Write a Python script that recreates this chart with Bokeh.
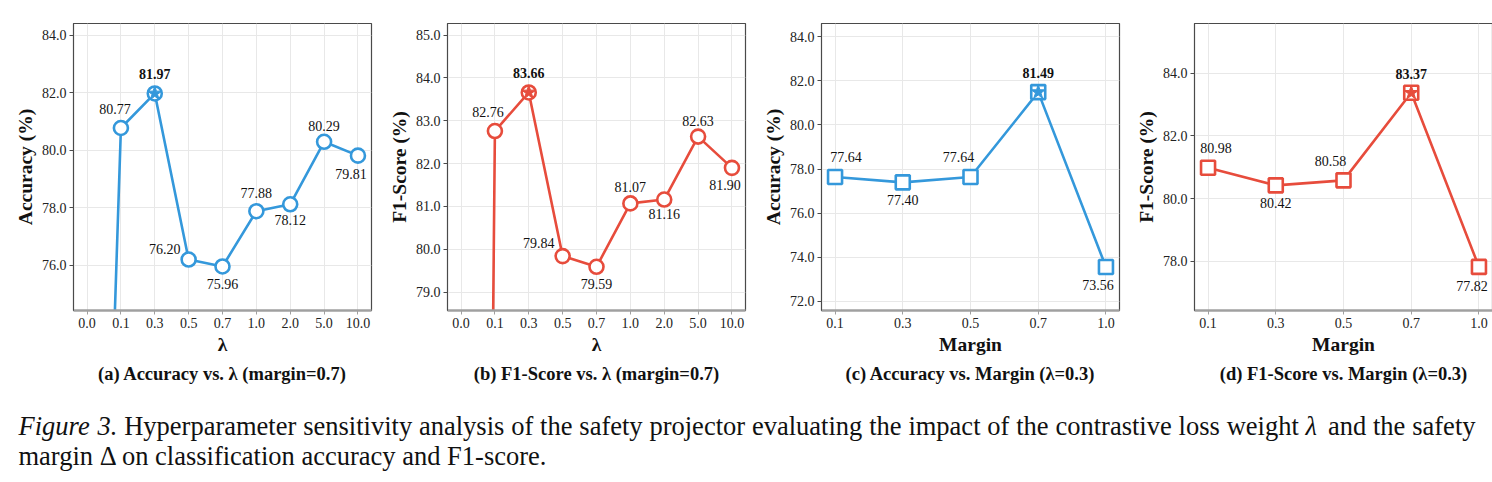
from bokeh.plotting import figure
from bokeh.models import (Range1d, FixedTicker, NumeralTickFormatter, Title,
                          ColumnDataSource)
from bokeh.layouts import row, column
from bokeh.core.properties import value
from bokeh.embed import file_html
from bokeh.resources import INLINE

# ---- data ----------------------------------------------------------------
lam_labels = ["0.0", "0.1", "0.3", "0.5", "0.7", "1.0", "2.0", "5.0", "10.0"]
acc_lam = [45.0, 80.77, 81.97, 76.20, 75.96, 77.88, 78.12, 80.29, 79.81]
f1_lam = [0.0, 82.76, 83.66, 79.84, 79.59, 81.07, 81.16, 82.63, 81.90]

margin_labels = ["0.1", "0.3", "0.5", "0.7", "1.0"]
acc_margin = [77.64, 77.40, 77.64, 81.49, 73.56]
f1_margin = [80.98, 80.42, 80.58, 83.37, 77.82]

# ---- styling ---------------------------------------------------------------
BLUE = "#3498DB"
RED = "#E74C3C"
SERIF = "Liberation Serif"

# value-label offsets in screen pixels (dx, dy; negative dy = above the point)
off_acc_lam = [(0, 0), (-6, -19), (0, -19), (-24, -11), (0, 18), (0, -18), (0, 16), (0, -16), (-7, 18)]
off_f1_lam = [(0, 0), (-7, -19), (0, -19), (-24, -13), (0, 17), (0, -16), (0, 14), (0, -16), (-7, 17)]
off_acc_margin = [(11, -20), (0, 18), (-12, -20), (0, -19), (-8, 18)]
off_f1_margin = [(8, -20), (0, 18), (-13, -19), (0, -19), (-7, 19)]


def panel(labels, values, offsets, color, marker, ylab, xlab, subtitle,
          yrange, yticks, border_left, border_right, pad):
    n = len(labels)
    xs = list(range(n))
    p = figure(frame_width=298, frame_height=287,
               min_border_left=border_left, min_border_right=border_right,
               min_border_top=23, min_border_bottom=80,
               x_range=Range1d(-pad, n - 1 + pad), y_range=Range1d(*yrange),
               output_backend="svg", toolbar_location=None)
    p.background_fill_color = "white"
    p.border_fill_color = "white"
    p.outline_line_color = "#4a4a4a"
    p.outline_line_width = 1.2

    p.xgrid.grid_line_color = "#e8e8e8"
    p.ygrid.grid_line_color = "#e8e8e8"
    p.xgrid.grid_line_width = 1
    p.ygrid.grid_line_width = 1

    p.xaxis.ticker = FixedTicker(ticks=xs)
    p.xaxis.major_label_overrides = {i: lab for i, lab in enumerate(labels)}
    p.yaxis.ticker = FixedTicker(ticks=yticks)
    p.yaxis.formatter = NumeralTickFormatter(format="0.0")

    for ax in (p.xaxis[0], p.yaxis[0]):
        ax.major_label_text_font = SERIF
        ax.major_label_text_font_size = "14px"
        ax.major_label_text_color = "#222222"
        ax.axis_label_text_font = SERIF
        ax.axis_label_text_font_style = "bold"
        ax.axis_label_text_font_size = "19.5px"
        ax.axis_label_text_color = "#111111"
        ax.minor_tick_line_color = None
        ax.major_tick_in = 0
        ax.major_tick_out = 4
        ax.major_label_standoff = 3
        ax.axis_label_standoff = 3
    p.yaxis.axis_line_color = "#4a4a4a"
    p.yaxis.major_tick_line_color = "#4a4a4a"
    p.xaxis.axis_line_color = "#a0a0a0"
    p.xaxis.axis_line_width = 2.5
    p.xaxis.major_tick_line_color = "#a0a0a0"
    p.xaxis.axis_label = xlab
    p.yaxis.axis_label = ylab

    src = ColumnDataSource(dict(x=xs, y=values))
    p.line("x", "y", source=src, line_color=color, line_width=2.6)
    p.scatter("x", "y", source=src, marker=marker, size=14, fill_color="white",
              line_color=color, line_width=2.6)

    best = max(range(n), key=lambda i: values[i])
    p.scatter([xs[best]], [values[best]], marker="star", size=15,
              fill_color=color, line_color=color, line_width=1)

    lo, hi = yrange
    idx = [i for i in range(n) if lo <= values[i] <= hi]
    lab_src = ColumnDataSource(dict(
        x=[xs[i] for i in idx],
        y=[values[i] for i in idx],
        t=["%.2f" % values[i] for i in idx],
        dx=[offsets[i][0] for i in idx],
        dy=[offsets[i][1] for i in idx],
        st=["bold" if i == best else "normal" for i in idx],
    ))
    p.text("x", "y", text="t", source=lab_src, x_offset="dx", y_offset="dy",
           text_font=value(SERIF), text_font_size="14px",
           text_font_style="st", text_color="#111111",
           text_align="center", text_baseline="middle")

    t = Title(text=subtitle, align="center", text_font=SERIF,
              text_font_style="bold", text_font_size="18.5px",
              text_color="#111111", standoff=8)
    p.add_layout(t, "below")
    return p


pa = panel(lam_labels, acc_lam, off_acc_lam, BLUE, "circle", "Accuracy (%)", "λ",
           "(a) Accuracy vs. λ (margin=0.7)", (74.43, 84.4), [76, 78, 80, 82, 84],
           73, 14, 0.4)
pb = panel(lam_labels, f1_lam, off_f1_lam, RED, "circle", "F1-Score (%)", "λ",
           "(b) F1-Score vs. λ (margin=0.7)", (78.57, 85.27), [79, 80, 81, 82, 83, 84, 85],
           55, 14, 0.4)
pc = panel(margin_labels, acc_margin, off_acc_margin, BLUE, "square", "Accuracy (%)", "Margin",
           "(c) Accuracy vs. Margin (λ=0.3)", (71.59, 84.6), [72, 74, 76, 78, 80, 82, 84],
           54, 13, 0.2)
pd_ = panel(margin_labels, f1_margin, off_f1_margin, RED, "square", "F1-Score (%)", "Margin",
            "(d) F1-Score vs. Margin (λ=0.3)", (76.43, 85.58), [78, 80, 82, 84],
            55, 22, 0.2)

# ---- caption (justified first line) ------------------------------------------
# approximate Times advance widths, in em
W = dict(a=.444, b=.5, c=.444, d=.5, e=.444, f=.333, g=.5, h=.5, i=.278, j=.278,
         k=.5, l=.278, m=.778, n=.5, o=.5, p=.5, q=.5, r=.333, s=.389, t=.278,
         u=.5, v=.5, w=.722, x=.5, y=.5, z=.444)
W.update({"F": .556, "H": .722, "Δ": .612, "λ": .583, ".": .25, "-": .333,
          "1": .5, "3": .5})
W_IT = {"F": .611, "r": .389}


def word_w(word, italic):
    return sum((W_IT.get(ch) if italic and ch in W_IT else W.get(ch, .5)) for ch in word)


cap = figure(width=1492, height=92, x_range=Range1d(0, 1492), y_range=Range1d(92, 0),
             output_backend="svg", toolbar_location=None,
             min_border=0, min_border_left=0, min_border_right=0,
             min_border_top=0, min_border_bottom=0)
cap.axis.visible = False
cap.grid.visible = False
cap.outline_line_color = None
cap.border_fill_color = "white"

CAP_PX = 26.5
line1 = [("Figure", True), ("3.", True), ("Hyperparameter", False), ("sensitivity", False),
         ("analysis", False), ("of", False), ("the", False), ("safety", False),
         ("projector", False), ("evaluating", False), ("the", False), ("impact", False),
         ("of", False), ("the", False), ("contrastive", False), ("loss", False),
         ("weight", False), ("λ", True), ("and", False), ("the", False), ("safety", False)]
left, right = 18, 1475
widths = [word_w(w, it) * CAP_PX for w, it in line1]
gap = (right - left - sum(widths)) / (len(line1) - 1)
xpos, cur = [], left
for wd in widths:
    xpos.append(cur)
    cur += wd + gap
cap.text(xpos, [35] * len(line1), text=[w for w, _ in line1],
         text_font=value(SERIF), text_font_size="%.1fpx" % CAP_PX,
         text_font_style=["italic" if it else "normal" for _, it in line1],
         text_color="#111111", text_baseline="middle")
cap.text([18], [65], text=["margin Δ on classification accuracy and F1-score."],
         text_font=value(SERIF), text_font_size="%.1fpx" % CAP_PX, text_color="#111111",
         text_baseline="middle")

layout = column(row(pa, pb, pc, pd_, spacing=0), cap, spacing=0)
open("out.html", "w").write(file_html(layout, INLINE))
